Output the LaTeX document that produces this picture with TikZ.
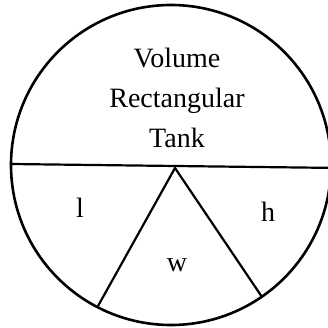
\documentclass[tikz,border=0pt]{standalone}
\usepackage{fontspec}
\setmainfont{Liberation Serif}
\begin{document}
\begin{tikzpicture}[x=1pt,y=-1pt,
  lbl/.style={font=\fontsize{28}{40}\selectfont, inner sep=0pt, align=center},
  edge/.style={line width=2.2pt}]
\useasboundingbox (0,0) rectangle (327,328);
\fill[white] (0,0) rectangle (327,328);
\coordinate (c) at (171,165);
\draw[line width=2.6pt] (c) circle[radius=160];
\coordinate (L) at (11,164);
\coordinate (R) at (340,168);
\coordinate (apex) at (175,168);
\coordinate (bl) at (98,306);
\coordinate (br) at (262,297);
\draw[edge] (L) -- (R);
\draw[edge] (bl) -- (apex) -- (br);
\node[lbl] (title) at (177,98) {Volume\\Rectangular\\Tank};
\node[lbl] (l) at (80,208) {l};
\node[lbl] (h) at (268,212) {h};
\node[lbl] (w) at (177,265) {w};
\end{tikzpicture}
\end{document}
